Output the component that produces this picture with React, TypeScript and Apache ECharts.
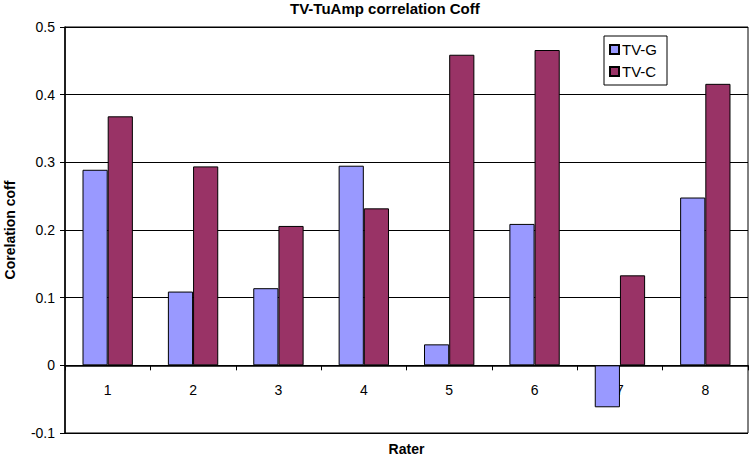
import React, { useEffect, useRef } from "react";
import * as echarts from "echarts";

const categories = ["1", "2", "3", "4", "5", "6", "7", "8"];
const tvG = [0.289, 0.109, 0.114, 0.295, 0.031, 0.209, -0.062, 0.248];
const tvC = [0.368, 0.294, 0.206, 0.232, 0.459, 0.466, 0.133, 0.416];
const seriesNames = ["TV-G", "TV-C"];
const titleText = "TV-TuAmp correlation Coff";
const xName = "Rater";
const yName = "Corelation coff";

const FONT = "'Liberation Sans', Arial, sans-serif";

export default function App() {
  const ref = useRef<HTMLDivElement>(null);
  useEffect(() => {
    if (!ref.current) return;
    const chart = echarts.init(ref.current, null, { renderer: "svg" });
    chart.setOption({
      animation: false,
      backgroundColor: "#fff",
      textStyle: { fontFamily: FONT },
      title: {
        text: titleText,
        left: 290,
        top: 1,
        padding: 0,
        textStyle: { fontFamily: FONT, fontSize: 15, fontWeight: "bold", color: "#000" },
      },
      legend: {
        orient: "vertical",
        left: 604,
        top: 36,
        padding: [6, 10, 6, 5],
        itemGap: 7,
        itemWidth: 9,
        itemHeight: 9,
        icon: "rect",
        backgroundColor: "#fff",
        borderColor: "#000",
        borderWidth: 1,
        borderRadius: 0,
        textStyle: { fontFamily: FONT, fontSize: 15, color: "#000", padding: [0, 0, 0, -2] },
        data: seriesNames,
      },
      grid: {
        left: 65,
        right: 2,
        top: 27,
        bottom: 26,
        containLabel: false,
        outerBoundsMode: "none",
        show: true,
        borderColor: "#000",
        borderWidth: 1,
        backgroundColor: "transparent",
      },
      xAxis: {
        type: "category",
        data: categories,
        name: xName,
        nameLocation: "middle",
        nameGap: 9,
        nameTextStyle: { fontFamily: FONT, fontSize: 14, fontWeight: "bold", color: "#000" },
        axisLine: { onZero: true, lineStyle: { color: "#000", width: 1.5 } },
        axisTick: { show: true, alignWithLabel: false, length: 5, lineStyle: { color: "#000" } },
        axisLabel: { margin: -50, fontFamily: FONT, fontSize: 14, color: "#000" },
        splitLine: { show: false },
      },
      yAxis: {
        type: "value",
        min: -0.1,
        max: 0.5,
        interval: 0.1,
        name: yName,
        nameLocation: "middle",
        nameGap: 48,
        nameTextStyle: { fontFamily: FONT, fontSize: 14, fontWeight: "bold", color: "#000" },
        axisLine: { show: true, lineStyle: { color: "#000", width: 1.5 } },
        axisTick: { show: true, length: 5, lineStyle: { color: "#000" } },
        axisLabel: {
          margin: 10,
          fontFamily: FONT,
          fontSize: 14,
          color: "#000",
          formatter: (v: number) => String(Math.round(v * 10) / 10),
        },
        splitLine: { show: true, lineStyle: { color: "#000", width: 1.2 } },
      },
      series: [
        {
          name: seriesNames[0],
          type: "bar",
          data: tvG,
          barGap: "0%",
          barCategoryGap: "41%",
          itemStyle: { color: "#9999FF", borderColor: "#000", borderWidth: 1 },
        },
        {
          name: seriesNames[1],
          type: "bar",
          data: tvC,
          barGap: "0%",
          barCategoryGap: "41%",
          itemStyle: { color: "#993366", borderColor: "#000", borderWidth: 1 },
        },
      ],
    });
    return () => chart.dispose();
  }, []);
  return <div ref={ref} style={{ width: 750, height: 459, position: "absolute", left: 0, top: 0 }} />;
}
